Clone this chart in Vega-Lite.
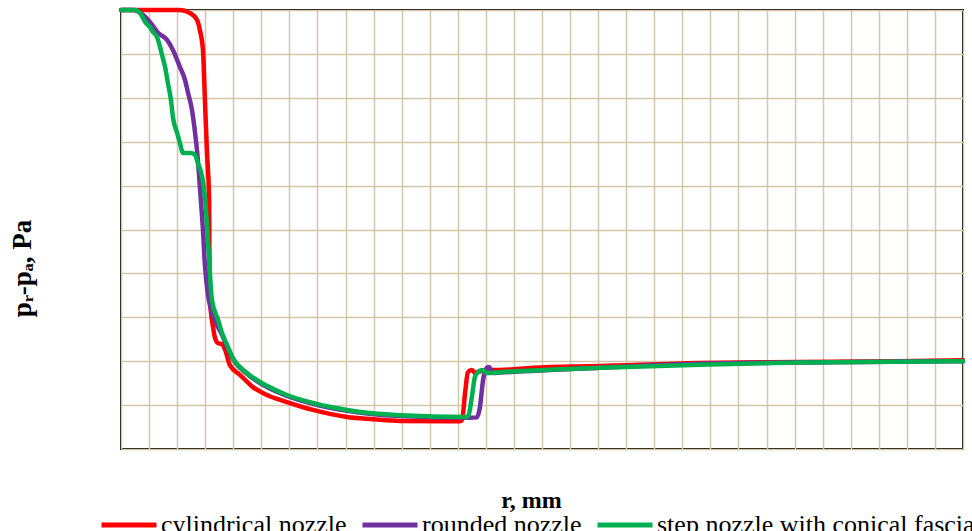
{
  "$schema": "https://vega.github.io/schema/vega-lite/v6.json",
  "width": 842,
  "height": 439,
  "autosize": {"type": "none"},
  "padding": {"left": 121, "top": 10, "right": 9, "bottom": 82},
  "background": "white",
  "config": {
    "view": {"stroke": "black", "strokeWidth": 2},
    "font": "Liberation Serif"
  },
  "data": {
    "values": [
      {"nozzle": "cylindrical nozzle", "r": 0, "dp": 10.0},
      {"nozzle": "cylindrical nozzle", "r": 2.10, "dp": 10.0},
      {"nozzle": "cylindrical nozzle", "r": 2.46, "dp": 9.93},
      {"nozzle": "cylindrical nozzle", "r": 2.71, "dp": 9.77},
      {"nozzle": "cylindrical nozzle", "r": 2.81, "dp": 9.54},
      {"nozzle": "cylindrical nozzle", "r": 2.92, "dp": 9.09},
      {"nozzle": "cylindrical nozzle", "r": 2.99, "dp": 7.95},
      {"nozzle": "cylindrical nozzle", "r": 3.06, "dp": 6.81},
      {"nozzle": "cylindrical nozzle", "r": 3.14, "dp": 5.67},
      {"nozzle": "cylindrical nozzle", "r": 3.15, "dp": 4.53},
      {"nozzle": "cylindrical nozzle", "r": 3.17, "dp": 3.39},
      {"nozzle": "cylindrical nozzle", "r": 3.28, "dp": 2.78},
      {"nozzle": "cylindrical nozzle", "r": 3.35, "dp": 2.53},
      {"nozzle": "cylindrical nozzle", "r": 3.46, "dp": 2.41},
      {"nozzle": "cylindrical nozzle", "r": 3.60, "dp": 2.39},
      {"nozzle": "cylindrical nozzle", "r": 3.71, "dp": 2.26},
      {"nozzle": "cylindrical nozzle", "r": 3.88, "dp": 1.91},
      {"nozzle": "cylindrical nozzle", "r": 4.24, "dp": 1.69},
      {"nozzle": "cylindrical nozzle", "r": 4.70, "dp": 1.41},
      {"nozzle": "cylindrical nozzle", "r": 5.20, "dp": 1.23},
      {"nozzle": "cylindrical nozzle", "r": 5.91, "dp": 1.07},
      {"nozzle": "cylindrical nozzle", "r": 6.84, "dp": 0.89},
      {"nozzle": "cylindrical nozzle", "r": 8.05, "dp": 0.73},
      {"nozzle": "cylindrical nozzle", "r": 8.98, "dp": 0.68},
      {"nozzle": "cylindrical nozzle", "r": 9.94, "dp": 0.64},
      {"nozzle": "cylindrical nozzle", "r": 12.08, "dp": 0.63},
      {"nozzle": "cylindrical nozzle", "r": 12.15, "dp": 0.66},
      {"nozzle": "cylindrical nozzle", "r": 12.26, "dp": 1.28},
      {"nozzle": "cylindrical nozzle", "r": 12.36, "dp": 1.75},
      {"nozzle": "cylindrical nozzle", "r": 12.50, "dp": 1.80},
      {"nozzle": "cylindrical nozzle", "r": 12.61, "dp": 1.74},
      {"nozzle": "cylindrical nozzle", "r": 12.79, "dp": 1.77},
      {"nozzle": "cylindrical nozzle", "r": 13.07, "dp": 1.80},
      {"nozzle": "cylindrical nozzle", "r": 13.50, "dp": 1.80},
      {"nozzle": "cylindrical nozzle", "r": 14.68, "dp": 1.85},
      {"nozzle": "cylindrical nozzle", "r": 17.06, "dp": 1.89},
      {"nozzle": "cylindrical nozzle", "r": 20.63, "dp": 1.96},
      {"nozzle": "cylindrical nozzle", "r": 24.19, "dp": 1.98},
      {"nozzle": "cylindrical nozzle", "r": 27.75, "dp": 2.00},
      {"nozzle": "cylindrical nozzle", "r": 30.0, "dp": 2.02},

      {"nozzle": "rounded nozzle", "r": 0, "dp": 10.0},
      {"nozzle": "rounded nozzle", "r": 0.43, "dp": 10.0},
      {"nozzle": "rounded nozzle", "r": 0.78, "dp": 9.89},
      {"nozzle": "rounded nozzle", "r": 1.03, "dp": 9.73},
      {"nozzle": "rounded nozzle", "r": 1.32, "dp": 9.48},
      {"nozzle": "rounded nozzle", "r": 1.64, "dp": 9.32},
      {"nozzle": "rounded nozzle", "r": 1.85, "dp": 9.09},
      {"nozzle": "rounded nozzle", "r": 2.10, "dp": 8.70},
      {"nozzle": "rounded nozzle", "r": 2.28, "dp": 8.41},
      {"nozzle": "rounded nozzle", "r": 2.39, "dp": 8.11},
      {"nozzle": "rounded nozzle", "r": 2.53, "dp": 7.72},
      {"nozzle": "rounded nozzle", "r": 2.64, "dp": 7.20},
      {"nozzle": "rounded nozzle", "r": 2.74, "dp": 6.58},
      {"nozzle": "rounded nozzle", "r": 2.81, "dp": 5.97},
      {"nozzle": "rounded nozzle", "r": 2.92, "dp": 4.99},
      {"nozzle": "rounded nozzle", "r": 2.99, "dp": 4.19},
      {"nozzle": "rounded nozzle", "r": 3.10, "dp": 3.51},
      {"nozzle": "rounded nozzle", "r": 3.21, "dp": 3.17},
      {"nozzle": "rounded nozzle", "r": 3.42, "dp": 2.82},
      {"nozzle": "rounded nozzle", "r": 3.60, "dp": 2.60},
      {"nozzle": "rounded nozzle", "r": 3.78, "dp": 2.32},
      {"nozzle": "rounded nozzle", "r": 3.99, "dp": 2.05},
      {"nozzle": "rounded nozzle", "r": 4.49, "dp": 1.71},
      {"nozzle": "rounded nozzle", "r": 5.20, "dp": 1.41},
      {"nozzle": "rounded nozzle", "r": 5.91, "dp": 1.21},
      {"nozzle": "rounded nozzle", "r": 6.84, "dp": 1.03},
      {"nozzle": "rounded nozzle", "r": 8.05, "dp": 0.87},
      {"nozzle": "rounded nozzle", "r": 9.94, "dp": 0.75},
      {"nozzle": "rounded nozzle", "r": 12.43, "dp": 0.71},
      {"nozzle": "rounded nozzle", "r": 12.68, "dp": 0.72},
      {"nozzle": "rounded nozzle", "r": 12.79, "dp": 0.96},
      {"nozzle": "rounded nozzle", "r": 12.90, "dp": 1.57},
      {"nozzle": "rounded nozzle", "r": 13.04, "dp": 1.85},
      {"nozzle": "rounded nozzle", "r": 13.11, "dp": 1.87},
      {"nozzle": "rounded nozzle", "r": 13.25, "dp": 1.73},
      {"nozzle": "rounded nozzle", "r": 13.50, "dp": 1.74},
      {"nozzle": "rounded nozzle", "r": 17.06, "dp": 1.85},
      {"nozzle": "rounded nozzle", "r": 20.63, "dp": 1.94},
      {"nozzle": "rounded nozzle", "r": 24.19, "dp": 1.97},
      {"nozzle": "rounded nozzle", "r": 30.0, "dp": 2.00},

      {"nozzle": "step nozzle with conical fascia", "r": 0, "dp": 10.0},
      {"nozzle": "step nozzle with conical fascia", "r": 0.50, "dp": 10.0},
      {"nozzle": "step nozzle with conical fascia", "r": 0.68, "dp": 9.93},
      {"nozzle": "step nozzle with conical fascia", "r": 0.86, "dp": 9.73},
      {"nozzle": "step nozzle with conical fascia", "r": 1.03, "dp": 9.61},
      {"nozzle": "step nozzle with conical fascia", "r": 1.14, "dp": 9.50},
      {"nozzle": "step nozzle with conical fascia", "r": 1.28, "dp": 9.39},
      {"nozzle": "step nozzle with conical fascia", "r": 1.39, "dp": 9.16},
      {"nozzle": "step nozzle with conical fascia", "r": 1.46, "dp": 8.98},
      {"nozzle": "step nozzle with conical fascia", "r": 1.57, "dp": 8.70},
      {"nozzle": "step nozzle with conical fascia", "r": 1.67, "dp": 8.34},
      {"nozzle": "step nozzle with conical fascia", "r": 1.78, "dp": 7.95},
      {"nozzle": "step nozzle with conical fascia", "r": 1.85, "dp": 7.56},
      {"nozzle": "step nozzle with conical fascia", "r": 2.00, "dp": 7.20},
      {"nozzle": "step nozzle with conical fascia", "r": 2.10, "dp": 6.97},
      {"nozzle": "step nozzle with conical fascia", "r": 2.21, "dp": 6.74},
      {"nozzle": "step nozzle with conical fascia", "r": 2.46, "dp": 6.74},
      {"nozzle": "step nozzle with conical fascia", "r": 2.64, "dp": 6.70},
      {"nozzle": "step nozzle with conical fascia", "r": 2.74, "dp": 6.51},
      {"nozzle": "step nozzle with conical fascia", "r": 2.89, "dp": 6.20},
      {"nozzle": "step nozzle with conical fascia", "r": 2.99, "dp": 5.74},
      {"nozzle": "step nozzle with conical fascia", "r": 3.12, "dp": 4.53},
      {"nozzle": "step nozzle with conical fascia", "r": 3.24, "dp": 3.39},
      {"nozzle": "step nozzle with conical fascia", "r": 3.46, "dp": 2.94},
      {"nozzle": "step nozzle with conical fascia", "r": 3.60, "dp": 2.64},
      {"nozzle": "step nozzle with conical fascia", "r": 3.78, "dp": 2.37},
      {"nozzle": "step nozzle with conical fascia", "r": 3.99, "dp": 2.07},
      {"nozzle": "step nozzle with conical fascia", "r": 4.49, "dp": 1.73},
      {"nozzle": "step nozzle with conical fascia", "r": 5.20, "dp": 1.44},
      {"nozzle": "step nozzle with conical fascia", "r": 5.91, "dp": 1.23},
      {"nozzle": "step nozzle with conical fascia", "r": 6.84, "dp": 1.05},
      {"nozzle": "step nozzle with conical fascia", "r": 8.05, "dp": 0.89},
      {"nozzle": "step nozzle with conical fascia", "r": 9.94, "dp": 0.77},
      {"nozzle": "step nozzle with conical fascia", "r": 12.33, "dp": 0.73},
      {"nozzle": "step nozzle with conical fascia", "r": 12.40, "dp": 0.80},
      {"nozzle": "step nozzle with conical fascia", "r": 12.50, "dp": 1.18},
      {"nozzle": "step nozzle with conical fascia", "r": 12.61, "dp": 1.64},
      {"nozzle": "step nozzle with conical fascia", "r": 12.72, "dp": 1.75},
      {"nozzle": "step nozzle with conical fascia", "r": 12.86, "dp": 1.80},
      {"nozzle": "step nozzle with conical fascia", "r": 13.04, "dp": 1.73},
      {"nozzle": "step nozzle with conical fascia", "r": 13.50, "dp": 1.75},
      {"nozzle": "step nozzle with conical fascia", "r": 17.06, "dp": 1.85},
      {"nozzle": "step nozzle with conical fascia", "r": 20.63, "dp": 1.92},
      {"nozzle": "step nozzle with conical fascia", "r": 24.19, "dp": 1.97},
      {"nozzle": "step nozzle with conical fascia", "r": 30.0, "dp": 2.00}
    ]
  },
  "mark": {"type": "line", "strokeWidth": 4.5, "strokeCap": "round", "strokeJoin": "round", "interpolate": "monotone"},
  "encoding": {
    "x": {
      "field": "r", "type": "quantitative",
      "scale": {"domain": [0, 30], "nice": false, "zero": false},
      "axis": {
        "title": "r, mm",
        "titleFont": "Liberation Serif", "titleFontSize": 24, "titleFontWeight": "bold", "titleColor": "black",
        "titleX": 410, "titleY": 58, "titleBaseline": "alphabetic", "titleAlign": "center",
        "values": [0,1,2,3,4,5,6,7,8,9,10,11,12,13,14,15,16,17,18,19,20,21,22,23,24,25,26,27,28,29,30],
        "labels": false, "ticks": false, "domain": false,
        "grid": true, "gridColor": "#D0C8A6", "gridWidth": 1.5, "gridOpacity": 1
      }
    },
    "y": {
      "field": "dp", "type": "quantitative",
      "scale": {"domain": [0, 10], "nice": false, "zero": false},
      "axis": {
        "title": "pᵣ-pₐ, Pa",
        "titleFont": "Liberation Serif", "titleFontSize": 27, "titleFontWeight": "bold", "titleColor": "black",
        "titleX": -99, "titleY": 258, "titleBaseline": "middle", "titleAlign": "center", "titleAngle": 270,
        "values": [0,1,2,3,4,5,6,7,8,9,10],
        "labels": false, "ticks": false, "domain": false,
        "grid": true, "gridColor": "#D0C8A6", "gridWidth": 1.5, "gridOpacity": 1
      }
    },
    "color": {
      "field": "nozzle", "type": "nominal",
      "scale": {
        "domain": ["cylindrical nozzle", "rounded nozzle", "step nozzle with conical fascia"],
        "range": ["#FF0000", "#7030A0", "#00B050"]
      },
      "legend": {
        "title": null, "orient": "none", "direction": "horizontal",
        "legendX": -22, "legendY": 485,
        "symbolType": "stroke", "symbolSize": 3025, "symbolStrokeWidth": 5,
        "labelFont": "Liberation Serif", "labelFontSize": 26, "labelColor": "black",
        "labelOffset": 2, "columnPadding": 5, "labelLimit": 400
      }
    }
  }
}
